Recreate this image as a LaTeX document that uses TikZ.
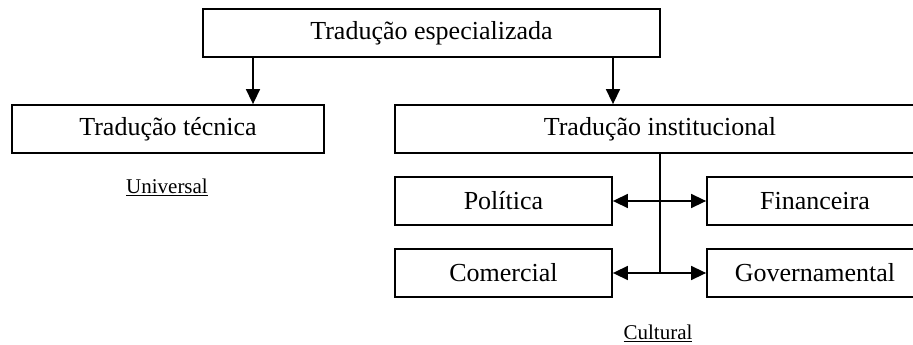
\documentclass[tikz,border=0pt]{standalone}
\usepackage{fontspec}
\setmainfont{Liberation Serif}
\usetikzlibrary{arrows.meta}

\begin{document}
\begin{tikzpicture}[x=1pt,y=-1pt]
\tikzset{caixa/.style={draw=black,line width=1.8pt,inner sep=0pt,
    font=\fontsize{26}{31}\selectfont},
  nota/.style={inner sep=0pt,font=\fontsize{21}{25}\selectfont},
  seta/.style={line width=1.5pt,-{Triangle[length=15pt,width=14pt]}},
  seta2/.style={line width=1.5pt,{Triangle[length=15pt,width=14pt]}-{Triangle[length=15pt,width=14pt]}}}
\useasboundingbox (0,0) rectangle (913,345);
\node[caixa,minimum width=457pt,minimum height=48pt] (esp) at (431.5,33) {Tradução especializada};
\node[caixa,minimum width=312pt,minimum height=48pt] (tec) at (168,129) {Tradução técnica};
\node[caixa,minimum width=530pt,minimum height=48pt] (inst) at (660,129) {Tradução institucional};
\node[caixa,minimum width=217pt,minimum height=48pt] (pol) at (503.5,201) {Política};
\node[caixa,minimum width=217pt,minimum height=48pt] (com) at (503.5,273) {Comercial};
\node[caixa,minimum width=216pt,minimum height=48pt] (fin) at (815,201) {Financeira};
\node[caixa,minimum width=216pt,minimum height=48pt] (gov) at (815,273) {Governamental};
\node[nota] (uni) at (167,187) {\underline{Universal}};
\node[nota] (cul) at (658,333) {\underline{Cultural}};
\coordinate (s1) at (253,57);
\coordinate (s2) at (613,57);
\draw[seta] (s1) -- (s1 |- tec.north);
\draw[seta] (s2) -- (s2 |- inst.north);
\draw[line width=1.5pt] (inst.south) -- (inst.south |- com.east);
\draw[seta2] (pol.east) -- (fin.west);
\draw[seta2] (com.east) -- (gov.west);
\end{tikzpicture}
\end{document}
